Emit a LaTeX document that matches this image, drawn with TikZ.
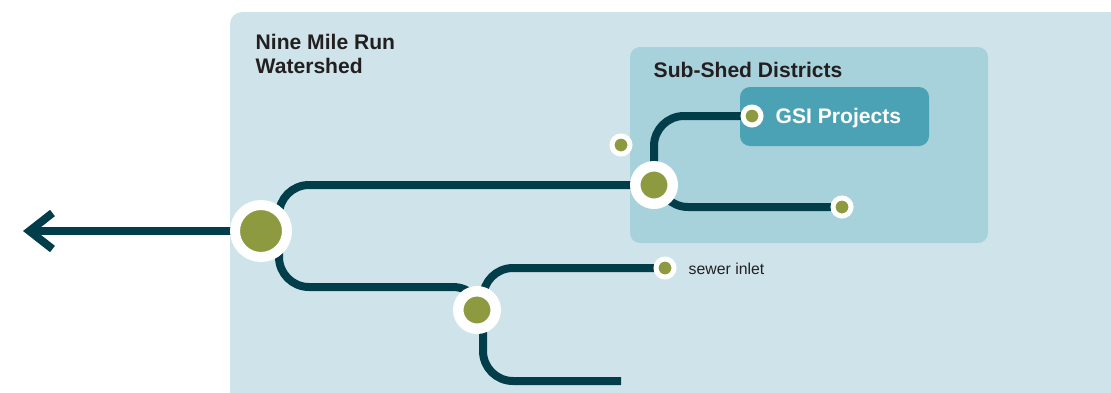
\documentclass[tikz,border=0pt]{standalone}
\usepackage{fontspec}
\setmainfont{Liberation Sans}
\usetikzlibrary{arrows.meta}
\definecolor{shedbg}{HTML}{CFE4EA}
\definecolor{subbg}{HTML}{A8D2DB}
\definecolor{gsibg}{HTML}{4AA2B4}
\definecolor{pipecol}{HTML}{023E4A}
\definecolor{dotgreen}{HTML}{8E9A3F}
\definecolor{ink}{HTML}{231F20}
\pgfdeclarelayer{back}
\pgfdeclarelayer{pipes}
\pgfsetlayers{back,pipes,main}
\begin{document}
\begin{tikzpicture}[x=0.1mm,y=-0.1mm,
  pipeline/.style={draw=pipecol,line width=0.8mm},
  bigdot/.style={circle,fill=dotgreen,draw=white,line width=1mm,inner sep=0,minimum size=5.2mm},
  middot/.style={circle,fill=dotgreen,draw=white,line width=1.05mm,inner sep=0,minimum size=3.75mm},
  smalldot/.style={circle,fill=dotgreen,draw=white,line width=0.5mm,inner sep=0,minimum size=1.8mm},
  title/.style={inner sep=0,text=ink,font=\bfseries\fontsize{6pt}{6.8pt}\selectfont,align=left}]
\clip (0,0) rectangle (1111,392);
\begin{pgfonlayer}{back}
\fill[shedbg,rounded corners=1.2mm] (230,12) rectangle (1140,420);
\fill[subbg,rounded corners=1mm] (630,47) rectangle (988,243);
\fill[gsibg,rounded corners=1mm] (740,87) rectangle (929,146);
\end{pgfonlayer}
% junctions and inlets
\node[bigdot] (outlet) at (261,231) {};
\node[middot] (sub) at (654,185) {};
\node[middot] (mid) at (477,310) {};
\node[smalldot] (gsi) at (752,116) {};
\node[smalldot] (lone) at (621,145) {};
\node[smalldot] (east) at (842,207) {};
\node[smalldot] (inlet) at (665,268) {};
\coordinate (tip) at (23,231);
\coordinate (tail) at (621,381);
% labels
\node[title,anchor=north west] (shed) at (255,34) {Nine Mile Run\\Watershed};
\node[title,anchor=north west] (subshed) at (653,62) {Sub-Shed Districts};
\node[title,text=white,anchor=base west] (gsitext) at (775,123) {GSI Projects};
\node[inner sep=0,text=ink,anchor=base west,font=\fontsize{4.5pt}{5pt}\selectfont] (inletlbl) at (688,274) {sewer inlet};
% pipes
\begin{pgfonlayer}{pipes}
\draw[pipeline,-{Straight Barb[length=2.3mm,width=3.6mm]}] (outlet.center) -- (tip);
\draw[pipeline,rounded corners=3mm] ([xshift=1.8mm]outlet.center) |- (sub.center);
\draw[pipeline,rounded corners=3mm] ([xshift=1.8mm]outlet.center) |- ([xshift=0.6mm,yshift=2.3mm]mid.center) -- ([xshift=0.6mm]mid.center);
\draw[pipeline,rounded corners=3mm] ([xshift=0.6mm]mid.center) |- (inlet.center);
\draw[pipeline,rounded corners=3mm] ([xshift=0.6mm]mid.center) |- (tail);
\draw[pipeline,rounded corners=3mm] (sub.center) |- (gsi.center);
\draw[pipeline,rounded corners=3mm] ([xshift=0.4mm]sub.center) |- (east.center);
\end{pgfonlayer}
\end{tikzpicture}
\end{document}
